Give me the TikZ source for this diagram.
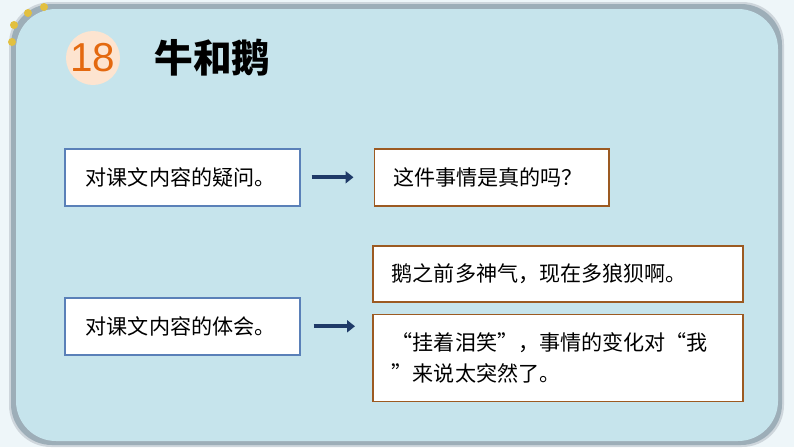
\documentclass[tikz,border=0pt]{standalone}
\usepackage{fontspec}
\setmainfont{Noto Sans CJK SC}
\newfontfamily\numfont{Liberation Sans}
\usepackage{tikz}
\usetikzlibrary{arrows.meta, positioning}
\definecolor{panelblue}{HTML}{C6E4EC}
\definecolor{outerbg}{HTML}{EEF6F9}
\definecolor{shadowgray}{HTML}{9DAEB8}
\definecolor{leftline}{HTML}{5A80B8}
\definecolor{rightline}{HTML}{9C5A22}
\definecolor{arrownavy}{HTML}{1F3A68}
\definecolor{numfill}{HTML}{FDE4D0}
\definecolor{numtext}{HTML}{E4690F}
\definecolor{dotyellow}{HTML}{E2C040}
\tikzstyle{qbox} = [rectangle, draw=leftline, line width=0.9pt, fill=white,
  text width=3.86cm, inner xsep=0.42cm, minimum height=1.14cm, align=left,
  font=\fontsize{12}{18}\selectfont]
\tikzstyle{abox} = [rectangle, draw=rightline, line width=0.9pt, fill=white,
  inner xsep=0.38cm, align=left, font=\fontsize{12}{18}\selectfont]
\tikzstyle{arrow} = [line width=2.2pt, draw=arrownavy, -{Triangle[length=1.6mm, width=2.4mm]}]

\begin{document}
\begin{tikzpicture}[x=0.02cm, y=-0.02cm]
    \useasboundingbox (0,0) rectangle (794,447);
    % background and panel
    \fill[outerbg] (0,0) rectangle (794,447);
    \fill[shadowgray!50, rounded corners=0.84cm] (9,2) rectangle (784,447);
    \fill[shadowgray, rounded corners=0.82cm] (11,4) rectangle (782,445);
    \fill[panelblue, rounded corners=0.8cm] (16,9) rectangle (778,441);
    \foreach \p in {(12,42),(14,25),(28,13),(44,7)}
      \fill[dotyellow] \p circle (4);
    % title
    \node[circle, fill=numfill, minimum size=1.08cm, inner sep=0pt, text=numtext,
      font=\numfont\fontsize{23}{23}\selectfont] (num) at (93,58) {18};
    \node[anchor=west, inner sep=0pt, font=\fontsize{22}{22}\selectfont\bfseries] (title) at (154,58) {牛和鹅};
    % boxes
    \node[qbox, anchor=north west] (n0) at (64,148) {对课文内容的疑问。};
    \node[abox, right=1.46cm of n0, text width=3.94cm, minimum height=1.14cm] (n1) {这件事情是真的吗？};
    \node[qbox, anchor=north west] (n2) at (64,297) {对课文内容的体会。};
    \node[abox, anchor=north west, text width=6.64cm, minimum height=1.12cm] (n3) at (372,245) {鹅之前多神气，现在多狼狈啊。};
    \node[abox, below=0.22cm of n3, text width=6.64cm, minimum height=1.74cm] (n4) {“挂着泪笑”，事情的变化对“我\\”来说太突然了。};
    \draw[arrow, shorten <=0.22cm, shorten >=0.4cm] (n0.east) -- (n1.west);
    \draw[arrow, shorten <=0.26cm, shorten >=0.34cm] (n2.east) -- (n2.east -| n4.west);
  \end{tikzpicture}
\end{document}
